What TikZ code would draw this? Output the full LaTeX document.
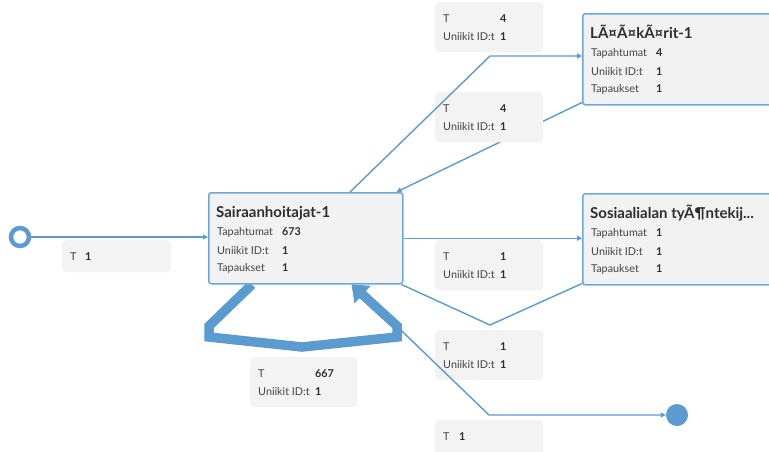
\documentclass[tikz,border=0pt]{standalone}
\usepackage{fontspec}
\setmainfont{Lato}
\usetikzlibrary{arrows.meta,backgrounds}
\definecolor{edgeblue}{HTML}{5B9BD0}
\definecolor{nodeborder}{HTML}{6FA8D8}
\definecolor{boxgray}{HTML}{F2F2F2}
\definecolor{lblgray}{HTML}{F3F3F3}
\definecolor{txtgray}{HTML}{444444}
\definecolor{valdark}{HTML}{2E2E2E}
\tikzset{
  actbox/.style={draw=nodeborder, line width=1.5pt, fill=boxgray, rounded corners=2.5pt, anchor=north west, inner sep=0pt, minimum height=91pt},
  lblbox/.style={fill=lblgray, rounded corners=4pt, anchor=north west, inner sep=0pt},
  ttl/.style={anchor=base west, inner sep=0pt, font=\fontsize{15}{18}\selectfont\bfseries, text=valdark},
  key/.style={anchor=base west, inner sep=0pt, font=\fontsize{10.8}{13}\selectfont, text=txtgray},
  val/.style={anchor=base west, inner sep=0pt, font=\fontsize{10.8}{13}\selectfont\bfseries, text=valdark},
  flowline/.style={draw=edgeblue, line width=1.4pt},
  flow/.style={flowline, -{Triangle[length=5pt,width=5pt]}},
}
% name, x, y, width, title, v1, v2, v3
\newcommand\actnode[8]{%
  \node[actbox, minimum width=#4pt] (#1) at (#2,#3) {};
  \node[ttl] (#1-ttl) at (#2+8,#3+25) {#5};
  \node[key] (#1-k1) at (#2+9,#3+43) {Tapahtumat};
  \node[val] (#1-v1) at (#2+74,#3+43) {#6};
  \node[key] (#1-k2) at (#2+9,#3+62) {Uniikit ID:t};
  \node[val] (#1-v2) at (#2+74,#3+62) {#7};
  \node[key] (#1-k3) at (#2+9,#3+79.5) {Tapaukset};
  \node[val] (#1-v3) at (#2+74,#3+79.5) {#8};
}
% name, x, y, width, T value, U value
\newcommand\lblnode[6]{%
  \node[lblbox, minimum width=#4pt, minimum height=50pt] (#1) at (#2,#3) {};
  \node[key] (#1-k1) at (#2+8,#3+20.5) {T};
  \node[val] (#1-v1) at (#2+65,#3+20.5) {#5};
  \node[key] (#1-k2) at (#2+8,#3+38.5) {Uniikit ID:t};
  \node[val] (#1-v2) at (#2+65,#3+38.5) {#6};
}
\begin{document}
\begin{tikzpicture}[x=1pt,y=-1pt]
\useasboundingbox (0,0) rectangle (769,451);

% activity nodes
\actnode{sai}{208}{192}{194}{Sairaanhoitajat-1}{673}{1}{1}
\actnode{laa}{582}{13}{200}{LÃ¤Ã¤kÃ¤rit-1}{4}{1}{1}
\actnode{sos}{582}{193}{200}{Sosiaalialan tyÃ¶ntekij...}{1}{1}{1}

% start and end
\node[circle, draw=edgeblue, line width=4.5pt, fill=white, minimum size=18pt, inner sep=0pt] (start) at (20,237) {};
\node[circle, fill=edgeblue, minimum size=22pt, inner sep=0pt] (end) at (677,415) {};

\coordinate (b2) at (490,56);
\coordinate (b5) at (490,325);
\coordinate (b7) at (489,415);

\begin{pgfonlayer}{background}
  % Laakarit -> Sairaanhoitajat
  \draw[flow] ([yshift=3pt]laa.south west) -- ([xshift=-7pt]sai.north east);
  \lblnode{l2}{435}{92}{108}{4}{1}
  \lblnode{l4}{435}{330}{108}{1}{1}
  % Sairaanhoitajat -> end
  \draw[flow] ([xshift=-50pt]sai.south east) -- (b7) -- (end);
  % self loop
  \draw[edgeblue, line width=9.5pt, -{Triangle[length=15pt,width=23pt]}]
    ([xshift=44pt]sai.south west) -- (209,326) -- (209,337) -- (302,347)
    -- (397,337) -- (397,326) -- ([xshift=-52pt]sai.south east);
\end{pgfonlayer}

% labels
\node[lblbox, minimum width=109pt, minimum height=32pt] (l0) at (62,240) {};
\node[key] (l0-k) at (70,260.5) {T};
\node[val] (l0-v) at (85,260.5) {1};
\lblnode{l1}{435}{2}{108}{4}{1}
\lblnode{l3}{435}{240}{108}{1}{1}
\lblnode{l5}{250}{357}{107}{667}{1}
\node[lblbox, minimum width=108pt, minimum height=40pt] (l6) at (435,420) {};
\node[key] (l6-k) at (443,440.5) {T};
\node[val] (l6-v) at (459,440.5) {1};

% edges
\draw[flow] (start) -- (start -| sai.west);
\draw[flow] ([xshift=142pt]sai.north west) -- (b2) -- (b2 -| laa.west);
\draw[flow] (sai.east) -- (sai.east -| sos.west);
\draw[flowline] ([yshift=2pt]sos.south west) -- (b5) -- ([xshift=-2pt]sai.south east);
\end{tikzpicture}
\end{document}
